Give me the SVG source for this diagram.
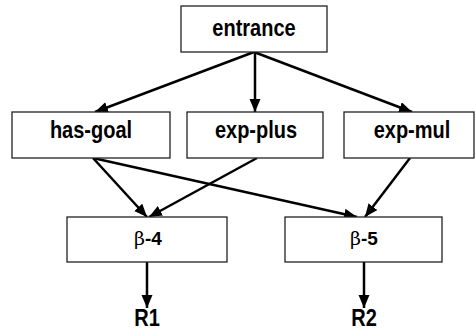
<svg xmlns="http://www.w3.org/2000/svg" width="475" height="332" viewBox="0 0 475 332">
<defs>
<marker id="arr" markerUnits="userSpaceOnUse" markerWidth="14" markerHeight="12" refX="13" refY="5.5" orient="auto">
<path d="M0,0 L13,5.5 L0,11 Z" fill="#000"/>
</marker>
<style>
.box{fill:#fff;stroke:#222;stroke-width:1.3}
.lbl{font-family:"Liberation Sans",Arial,sans-serif;font-weight:bold;font-size:20px;fill:#000;text-anchor:middle}
.beta{font-family:"Liberation Sans",Arial,sans-serif;font-weight:bold;font-size:19px;fill:#000;text-anchor:middle}
.sym{font-family:"DejaVu Serif","Liberation Serif",serif;font-weight:normal}
.edge{stroke:#000;stroke-width:2.5;fill:none;marker-end:url(#arr)}
</style>
</defs>
<rect width="475" height="332" fill="#fff"/>
<g id="connectors">
<line class="edge" x1="254" y1="52" x2="95" y2="112"/>
<line class="edge" x1="255" y1="52" x2="255" y2="112"/>
<line class="edge" x1="254" y1="52" x2="412" y2="112"/>
<line class="edge" x1="93" y1="158" x2="147" y2="217"/>
<line class="edge" x1="93" y1="158" x2="357" y2="217"/>
<line class="edge" x1="257" y1="158" x2="149" y2="217"/>
<line class="edge" x1="410" y1="158" x2="365" y2="217"/>
<line class="edge" x1="147" y1="262" x2="147" y2="308"/>
<line class="edge" x1="364" y1="262" x2="364" y2="308"/>
</g>
<g id="entrance">
<rect class="box" x="181" y="6" width="146" height="46"/>
<text class="lbl" transform="translate(254,36) scale(1,1.2)">entrance</text>
</g>
<g id="has-goal">
<rect class="box" x="12" y="112" width="158" height="46"/>
<text class="lbl" transform="translate(91,138) scale(1,1.2)">has-goal</text>
</g>
<g id="exp-plus">
<rect class="box" x="187" y="112" width="136" height="46"/>
<text class="lbl" transform="translate(256,138) scale(1,1.2)">exp-plus</text>
</g>
<g id="exp-mul">
<rect class="box" x="344" y="112" width="130" height="46"/>
<text class="lbl" transform="translate(412,138) scale(1,1.2)">exp-mul</text>
</g>
<g id="beta-4">
<rect class="box" x="67" y="217" width="160" height="45"/>
<text class="beta" x="148" y="245"><tspan class="sym">β</tspan>-4</text>
</g>
<g id="beta-5">
<rect class="box" x="285" y="217" width="157" height="45"/>
<text class="beta" x="364" y="245"><tspan class="sym">β</tspan>-5</text>
</g>
<g id="R1">
<text class="lbl" transform="translate(147,326) scale(1,1.15)">R1</text>
</g>
<g id="R2">
<text class="lbl" transform="translate(364,326) scale(1,1.15)">R2</text>
</g>
</svg>
